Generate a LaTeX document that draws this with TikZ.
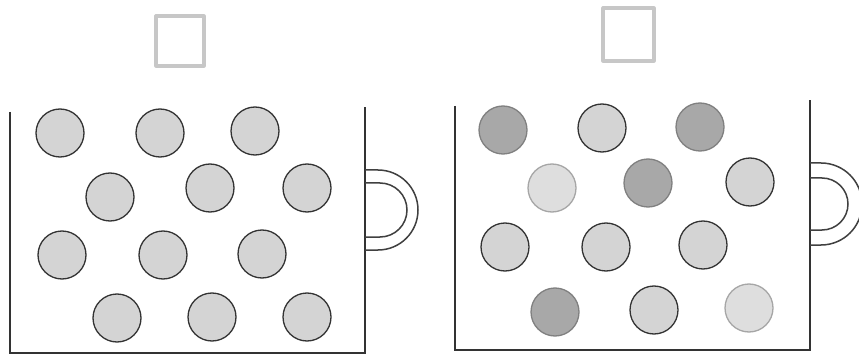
\documentclass[tikz,border=0pt]{standalone}
\begin{document}
\begin{tikzpicture}[x=1pt,y=-1pt,
  wallline/.style={draw=black!80,line width=1.6pt},
  handleline/.style={draw=black!75,line width=1.5pt},
  lid/.style={draw=black!22,line width=3.2pt,line join=round},
  ball/.style={circle,minimum size=48pt,inner sep=0pt,line width=1.3pt},
  lightball/.style={ball,fill=black!17,draw=black!80},
  darkball/.style={ball,fill=black!34,draw=black!50},
  paleball/.style={ball,fill=black!13,draw=black!35}]
\useasboundingbox (0,0) rectangle (859,358);
\fill[white] (0,0) rectangle (859,358);
% left container
\coordinate (LTL) at (10,112);
\coordinate (LBL) at (10,353);
\coordinate (LBR) at (365,353);
\coordinate (LTR) at (365,107);
\draw[wallline] (LTL) -- (LBL) -- (LBR) -- (LTR);
\draw[handleline] (365,170) -- (378,170) arc[start angle=-90,end angle=90,radius=40] -- (365,250);
\draw[handleline] (365,183) -- (380,183) arc[start angle=-90,end angle=90,radius=27] -- (365,237);
\draw[lid] (156,16) rectangle (204,66);
% left balls
\node[lightball] (a1) at (60,133) {};
\node[lightball] (a2) at (160,133) {};
\node[lightball] (a3) at (255,131) {};
\node[lightball] (a4) at (110,197) {};
\node[lightball] (a5) at (210,188) {};
\node[lightball] (a6) at (307,188) {};
\node[lightball] (a7) at (62,255) {};
\node[lightball] (a8) at (163,255) {};
\node[lightball] (a9) at (262,254) {};
\node[lightball] (a10) at (117,318) {};
\node[lightball] (a11) at (212,317) {};
\node[lightball] (a12) at (307,317) {};
% right container
\coordinate (RTL) at (455,106);
\coordinate (RBL) at (455,350);
\coordinate (RBR) at (810,350);
\coordinate (RTR) at (810,100);
\draw[wallline] (RTL) -- (RBL) -- (RBR) -- (RTR);
\draw[handleline] (810,163) -- (821,163) arc[start angle=-90,end angle=90,radius=41] -- (810,245);
\draw[handleline] (810,178) -- (822,178) arc[start angle=-90,end angle=90,radius=26] -- (810,230);
\draw[lid] (603,8) rectangle (654,61);
% right balls
\node[darkball] (b1) at (503,130) {};
\node[lightball] (b2) at (602,128) {};
\node[darkball] (b3) at (700,127) {};
\node[paleball] (b4) at (552,188) {};
\node[darkball] (b5) at (648,183) {};
\node[lightball] (b6) at (750,182) {};
\node[lightball] (b7) at (505,247) {};
\node[lightball] (b8) at (606,247) {};
\node[lightball] (b9) at (703,245) {};
\node[darkball] (b10) at (555,312) {};
\node[lightball] (b11) at (654,310) {};
\node[paleball] (b12) at (749,308) {};
\end{tikzpicture}
\end{document}
